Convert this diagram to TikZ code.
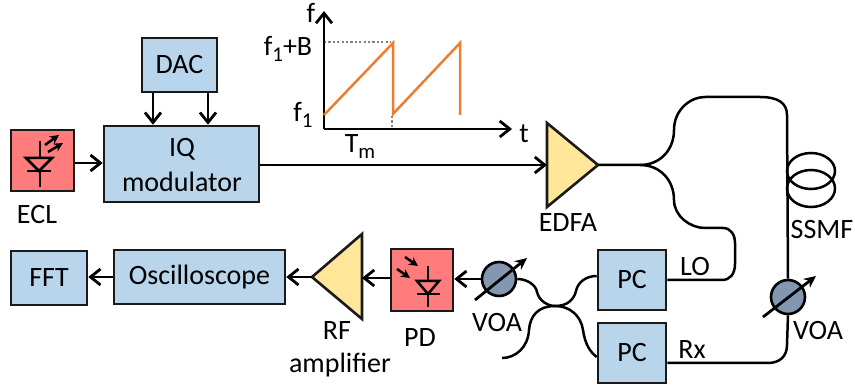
\documentclass[tikz,border=0pt]{standalone}
\usepackage{fontspec}
\setmainfont{Carlito}
\usetikzlibrary{arrows.meta,calc}
\definecolor{boxblue}{HTML}{B8D5EC}
\definecolor{lasered}{HTML}{FF7C7C}
\definecolor{ampyellow}{HTML}{FFE699}
\definecolor{voagrey}{HTML}{8497B0}
\definecolor{sweep}{HTML}{ED7D31}
\definecolor{edgeink}{HTML}{1A1A1A}
\newcommand{\subs}[1]{\raisebox{-6pt}{\fontsize{21}{24}\selectfont #1}}
\tikzset{
  box/.style={draw=edgeink,line width=2.6pt,fill=boxblue,inner sep=0pt,font=\fontsize{28}{32}\selectfont},
  redbox/.style={draw=edgeink,line width=2.6pt,fill=lasered,inner sep=0pt},
  amp/.style={draw=edgeink,line width=2.6pt,fill=ampyellow,line join=miter},
  voa/.style={circle,draw=black,line width=2.6pt,fill=voagrey,inner sep=0pt,minimum size=34pt},
  lbl/.style={inner sep=0pt,font=\fontsize{28}{32}\selectfont},
  conn/.style={line width=2.8pt,-{Straight Barb[length=10pt,width=16pt,line width=2.8pt]}},
  fiber/.style={line width=2.5pt,draw=black},
  dia/.style={line width=2.5pt},
  ray/.style={line width=2.5pt,-{Stealth[length=9pt,width=9pt]}},
  tune/.style={line width=2.8pt,-{Stealth[length=12pt,width=11pt]}},
  saw/.style={line width=2.5pt,draw=sweep},
  dots/.style={line width=1.8pt,draw=gray,dash pattern=on 2.2pt off 2.2pt},
}
\begin{document}
\begin{tikzpicture}[x=1pt,y=-1pt]
\useasboundingbox (0,0) rectangle (855,390);
% boxes
\node[box,minimum width=75pt,minimum height=54pt] (dac) at (179.5,65) {DAC};
\node[box,minimum width=155pt,minimum height=76pt] (iq) at (181.5,164) {};
\node[lbl] (iqa) at (182,149) {IQ};
\node[lbl] (iqb) at (182,182) {modulator};
\node[redbox,minimum width=63pt,minimum height=61pt] (ecl) at (42.5,160.5) {};
\node[box,minimum width=171pt,minimum height=54pt] (osc) at (199.5,277) {Oscilloscope};
\node[box,minimum width=76pt,minimum height=54pt] (fft) at (49,278) {FFT};
\node[redbox,minimum width=62pt,minimum height=62pt] (pd) at (422,280) {};
\node[box,minimum width=68pt,minimum height=60pt] (pca) at (632,280) {PC};
\node[box,minimum width=68pt,minimum height=60pt] (pcb) at (632,353) {PC};
\node[voa] (voaa) at (499,279) {};
\node[voa] (voab) at (788,297) {};
% amplifiers
\coordinate (edfaT) at (547,123);
\coordinate (edfaB) at (547,207);
\coordinate (edfaTip) at (598,165);
\coordinate (edfaIn) at (547,165);
\draw[amp] (edfaT) -- (edfaTip) -- (edfaB) -- cycle;
\coordinate (rfT) at (362,234);
\coordinate (rfB) at (362,319);
\coordinate (rfTip) at (312,277);
\coordinate (rfIn) at (362,278);
\draw[amp] (rfT) -- (rfTip) -- (rfB) -- cycle;
% arrows
\draw[conn] (dac.south -| 153,0) -- (iq.north -| 153,0);
\draw[conn] (dac.south -| 208,0) -- (iq.north -| 208,0);
\draw[conn] (ecl.east |- 0,163) -- (iq.west |- 0,163);
\draw[conn] (iq.east |- edfaIn) -- (edfaIn);
\draw[conn] (voaa.west) -- (pd.east |- voaa.west);
\draw[conn] (pd.west |- rfIn) -- (rfIn);
\draw[conn] (rfTip) -- (osc.east |- rfTip);
\draw[conn] (osc.west) -- (fft.east |- osc.west);
% fibres
\coordinate (split) at (640,165);
\coordinate (cpl) at (555,306);
\coordinate (free) at (502,358);
\draw[fiber] (edfaTip) -- (split)
  .. controls (660,165) and (674,150) .. (674,130)
  .. controls (674,110) and (690,97) .. (705,97) -- (760,97)
  .. controls (778,97) and (787,103) .. (787,115) -- (voab.north);
\draw[fiber] (split)
  .. controls (660,165) and (674,180) .. (674,200)
  .. controls (674,216) and (690,228) .. (705,228) -- (723,228)
  .. controls (731,228) and (735,235) .. (735,243) -- (735,264)
  .. controls (735,274) and (730,280) .. (722,280) -- (pca.east |- 0,280);
\draw[fiber] (voab.south) -- (787,345)
  .. controls (787,357) and (779,363) .. (768,363) -- (pcb.east |- 0,363);
\draw[fiber] (voaa.east) .. controls (527,279) and (536,285) .. (537,292)
  .. controls (539,301) and (548,306) .. (cpl);
\draw[fiber] (cpl) .. controls (568,306) and (574,299) .. (576,291)
  .. controls (578,282) and (586,276) .. (pca.west |- 0,276);
\draw[fiber] (cpl) .. controls (538,306) and (530,316) .. (529,330)
  .. controls (528,348) and (515,358) .. (free);
\draw[fiber] (cpl) .. controls (570,306) and (581,316) .. (583,330)
  .. controls (585,344) and (590,352) .. (pcb.west |- 0,357);
% fibre coil
\draw[fiber] (811,171) ellipse [x radius=24,y radius=18];
\draw[fiber] (811,188.5) ellipse [x radius=24,y radius=18.5];
% VOA tuning arrows
\draw[tune] (475,300) -- (527,258);
\draw[tune] (763,317) -- (816,276);
% laser symbol
\draw[dia] (40,141) -- (40,187);
\draw[dia,fill=lasered] (26,158) -- (52,158) -- (39,171) -- cycle;
\draw[dia] (27,171) -- (51,171);
\draw[ray] (45,145) -- (59,135);
\draw[ray] (48,152) -- (63,143);
% photodiode symbol
\draw[dia] (428,266) -- (428,307);
\draw[dia,fill=lasered] (417,281) -- (439,281) -- (428,294) -- cycle;
\draw[dia] (417,294) -- (440,294);
\draw[ray] (405,257) -- (418,266);
\draw[ray] (397,269) -- (410,278);
% chart
\coordinate (org) at (324,129);
\coordinate (ytop) at (324,11);
\coordinate (xend) at (512,129);
\draw[dots] (org |- 0,42) -- (391,42);
\draw[dots] (392,116) -- (392,129);
\draw[conn] (org) -- (ytop);
\draw[conn] (org) -- (xend);
\draw[saw,line join=miter] (org |- 0,115) -- (393,43) -- (393,114) -- (460,43) -- (460,115);
% labels
\node[lbl] (lf) at (311,13) {f};
\node[lbl] (lfb) at (288,49) {f\subs{1}+B};
\node[lbl] (lfa) at (303,115) {f\subs{1}};
\node[lbl] (lt) at (524,134) {t};
\node[lbl] (ltm) at (360,147) {T\subs{m}};
\node[lbl] (lecl) at (37,215) {ECL};
\node[lbl] (ledfa) at (568,223) {EDFA};
\node[lbl] (lssmf) at (822,230) {SSMF};
\node[lbl] (llo) at (695,267) {LO};
\node[lbl] (lrx) at (692,350) {Rx};
\node[lbl] (lvoaa) at (497,323) {VOA};
\node[lbl] (lvoab) at (818,331) {VOA};
\node[lbl] (lpd) at (420,338) {PD};
\node[lbl] (lrf) at (337,331) {RF};
\node[lbl] (lamp) at (340,365) {amplifier};
\end{tikzpicture}
\end{document}
